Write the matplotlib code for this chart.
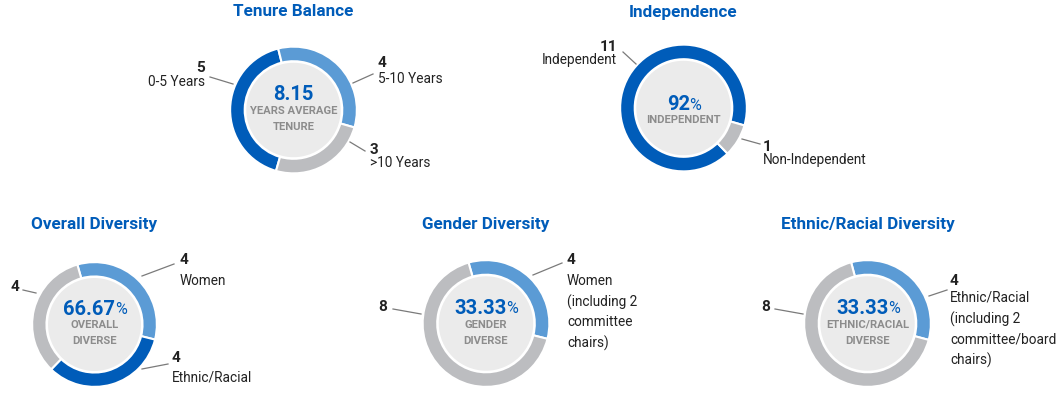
import matplotlib
matplotlib.use("Agg")
import matplotlib.pyplot as plt
from matplotlib.patches import Circle

plt.rcParams['font.family'] = ['Roboto', 'DejaVu Sans']

# data
titles = ['Tenure Balance', 'Independence', 'Overall Diversity',
          'Gender Diversity', 'Ethnic/Racial Diversity']
tenure_counts = [5, 4, 3]
tenure_labels = ['0-5 Years', '5-10 Years', '>10 Years']
indep_counts = [11, 1]
indep_labels = ['Independent', 'Non-Independent']
overall_counts = [4, 4, 4]
overall_labels = ['Women', 'Ethnic/Racial', '']
gender_counts = [4, 8]
gender_labels = ['Women\n(including 2\ncommittee\nchairs)', '']
ethnic_counts = [4, 8]
ethnic_labels = ['Ethnic/Racial\n(including 2\ncommittee/board\nchairs)', '']
center_values = ['8.15', '92', '66.67', '33.33', '33.33']
center_pct = [False, True, True, True, True]
center_sub = ['YEARS AVERAGE\nTENURE', 'INDEPENDENT', 'OVERALL\nDIVERSE',
              'GENDER\nDIVERSE', 'ETHNIC/RACIAL\nDIVERSE']

DARK = '#005cb9'
LIGHT = '#5b9bd5'
GRAY = '#bcbdc0'
INNER = '#ebebeb'
SUB = '#8c8c8c'
LINE = '#7a7a7a'

W, H = 1059, 396
fig = plt.figure(figsize=(W / 100, H / 100), dpi=100)
fig.patch.set_facecolor('white')

charts = [
    dict(counts=tenure_counts, labels=tenure_labels, colors=[DARK, LIGHT, GRAY],
         start=-106, c=(293.5, 110), r=64),
    dict(counts=indep_counts, labels=indep_labels, colors=[DARK, GRAY],
         start=-46, c=(683.5, 108), r=64),
    dict(counts=overall_counts, labels=overall_labels, colors=[LIGHT, DARK, GRAY],
         start=106, c=(94.5, 324.5), r=63),
    dict(counts=gender_counts, labels=gender_labels, colors=[LIGHT, GRAY],
         start=106, c=(486, 323.5), r=64),
    dict(counts=ethnic_counts, labels=ethnic_labels, colors=[LIGHT, GRAY],
         start=105, c=(867.5, 323.5), r=64),
]

# label placement per slice: (num_x, num_y, text_y, ha, line_from, line_to)
placements = [
    [(205, 68, 82, 'right', (233, 84), (210, 77)),
     (378, 63, 79, 'left', (353, 83), (373, 74)),
     (370, 150, 163, 'left', (350, 142), (365, 151))],
    [(617, 47, 60, 'right', (636, 64), (623, 52)),
     (763, 147, 160, 'left', (742, 139), (760, 144))],
    [(180, 260, 281, 'left', (142, 276), (174, 264)),
     (172, 358, 378, 'left', (142, 369), (168, 364)),
     (19, 287, None, 'right', (36, 293), (23, 290))],
    [(567, 260, 274, 'left', (533, 275), (562, 263)),
     (387, 307, None, 'right', (421, 314), (393, 309))],
    [(950, 281, 291, 'left', (929, 296), (947, 290)),
     (770, 307, None, 'right', (803, 314), (775, 309))],
]
title_y = [12, 12, 225, 225, 225]

for ch in charts:
    cx, cy = ch['c']
    r = ch['r']
    ax = fig.add_axes([(cx - r) / W, 1 - (cy + r) / H, 2 * r / W, 2 * r / H])
    ax.pie(ch['counts'], colors=ch['colors'], startangle=ch['start'],
           counterclock=False, radius=1,
           wedgeprops=dict(width=0.23, edgecolor='white', linewidth=1.5))
    ax.add_patch(Circle((0, 0), 0.745, facecolor=INNER, edgecolor='none'))
    ax.set_xlim(-1.01, 1.01)
    ax.set_ylim(-1.01, 1.01)
    ax.set_aspect('equal')
    ax.axis('off')

# overlay axes in pixel coordinates for text and leader lines
ov = fig.add_axes([0, 0, 1, 1])
ov.set_xlim(0, W)
ov.set_ylim(H, 0)
ov.axis('off')
ov.patch.set_alpha(0)

for i, ch in enumerate(charts):
    cx, cy = ch['c']
    ov.text(cx, title_y[i], titles[i], ha='center', va='center',
            fontsize=12.3, fontweight='bold', color=DARK)

    nsub = center_sub[i].count('\n') + 1
    if nsub == 2:
        num_y, sub_y = cy - 15, cy - 4
    else:
        num_y, sub_y = cy - 3, cy + 7
    if center_pct[i]:
        t = ov.text(cx - 5, num_y, center_values[i], ha='center', va='center',
                    fontsize=14.5, fontweight='bold', color=DARK)
        ov.annotate('%', xy=(1, 0.5), xycoords=t, xytext=(-0.5, 0),
                    textcoords='offset points', ha='left', va='center',
                    fontsize=11.5, color=DARK)
    else:
        ov.text(cx, num_y, center_values[i], ha='center', va='center',
                fontsize=14.5, fontweight='bold', color=DARK)
    ov.text(cx, sub_y, center_sub[i], ha='center', va='top',
            fontsize=8.1, fontweight='bold', color=SUB, linespacing=1.75)

    for cnt, lab, pl in zip(ch['counts'], ch['labels'], placements[i]):
        nx, ny, ty, ha, p0, p1 = pl
        ov.plot([p0[0], p1[0]], [p0[1], p1[1]], color=LINE, lw=0.9)
        ov.text(nx, ny, str(cnt), ha=ha, va='center', fontsize=11,
                fontweight='bold', color='#222222')
        if lab:
            ov.text(nx, ty, lab, ha=ha, va='top' if '\n' in lab else 'center',
                    fontsize=9.8, color='#222222', linespacing=1.52)

fig.savefig('out.png', dpi=100, facecolor='white')
